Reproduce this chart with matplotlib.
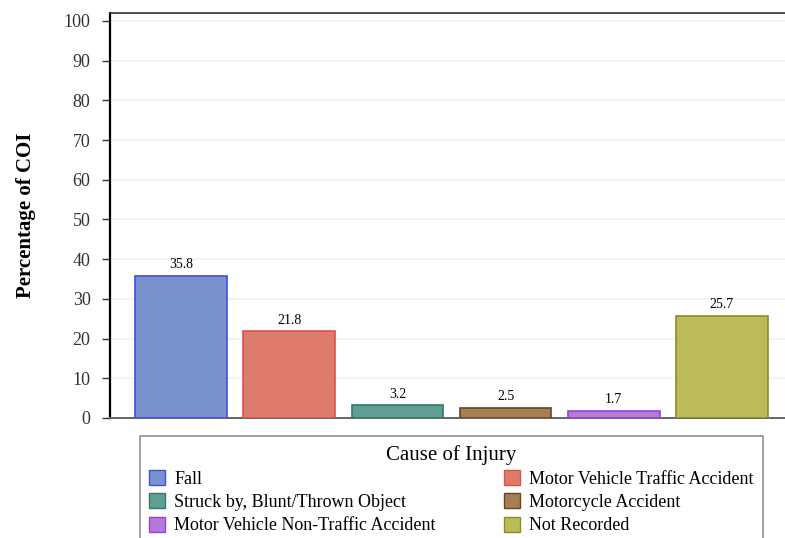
import matplotlib
matplotlib.use("Agg")
import matplotlib.pyplot as plt
from matplotlib.patches import Patch

# Data
causes = ["Fall", "Motor Vehicle Traffic Accident", "Struck by, Blunt/Thrown Object",
          "Motorcycle Accident", "Motor Vehicle Non-Traffic Accident", "Not Recorded"]
values = [35.8, 21.8, 3.2, 2.5, 1.7, 25.7]
fills = ["#7b93cc", "#df7b6c", "#5f9e93", "#a67e55", "#b57ad8", "#bcbb5a"]
edges = ["#3b4fe0", "#d9544a", "#2d7a6d", "#6a4520", "#9a3ee0", "#8c8c25"]

plt.rcParams["font.family"] = ["Liberation Serif", "DejaVu Serif"]

fig = plt.figure(figsize=(7.85, 5.38), dpi=100)
ax = fig.add_axes([110 / 785, 1 - 418 / 538, (793 - 110) / 785, (418 - 13) / 538])

x = list(range(len(values)))
ax.bar(x, values, width=0.85, color=fills, edgecolor=edges, linewidth=1.2, zorder=3)
for xi, v in zip(x, values):
    ax.text(xi, v + 1.2, f"{v}", ha="center", va="bottom", fontsize=10, zorder=4)

ax.set_xlim(-0.66, 5.66)
ax.set_ylim(0, 102)
ax.set_yticks(range(0, 101, 10))
ax.set_xticks([])
ax.tick_params(axis="y", labelsize=13, length=6, width=1, pad=8,
               colors="#333333", labelcolor="#333333")
ax.yaxis.grid(True, color="#f2f2f2", linewidth=1.2, zorder=0)
ax.set_axisbelow(True)
ax.spines["right"].set_visible(False)
ax.spines["left"].set_linewidth(1.6)
ax.spines["top"].set_color("#333333")
ax.spines["top"].set_linewidth(1.2)
ax.spines["bottom"].set_color("#666666")
ax.spines["bottom"].set_linewidth(1.4)
ax.set_ylabel("Percentage of COI", fontsize=15, fontweight="bold", labelpad=20)

# legend fills row by row: reorder for matplotlib's column-major layout
order = [0, 2, 4, 1, 3, 5]
handles = [Patch(facecolor=fills[i], edgecolor=edges[i], linewidth=1.0) for i in order]
labels = [causes[i] for i in order]
leg = fig.legend(handles, labels, ncol=2, loc="upper left",
                 bbox_to_anchor=(140 / 785, 1 - 436 / 538, 623 / 785, 0.0),
                 mode="expand", title="Cause of Injury", title_fontsize=15, fontsize=13,
                 frameon=True, fancybox=False, edgecolor="#777777",
                 handlelength=0.9, handleheight=0.9, handletextpad=0.5,
                 labelspacing=0.3, borderaxespad=0, borderpad=0.5, columnspacing=0.3)
leg.get_frame().set_linewidth(1.2)

fig.savefig("out.png", dpi=100)
